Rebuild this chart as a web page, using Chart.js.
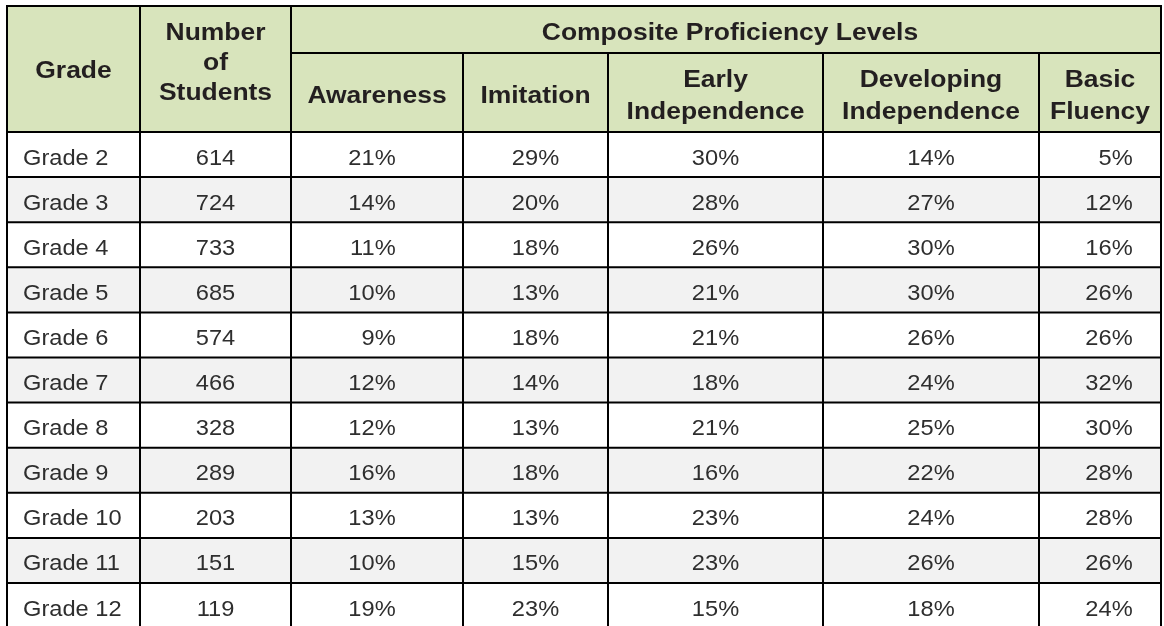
<!DOCTYPE html>
<html>
<head>
<meta charset="utf-8">
<script src="https://cdn.jsdelivr.net/npm/chart.js@4.4.1/dist/chart.umd.min.js"></script>
<style>
    html, body { margin: 0; padding: 0; background: #fff; }
    #wrap { width: 1164px; height: 626px; position: relative; }
</style>
</head>
<body>
<div id="wrap"><canvas id="proficiency-table"></canvas></div>
<script>
// table data
const grades = ['Grade 2', 'Grade 3', 'Grade 4', 'Grade 5', 'Grade 6', 'Grade 7', 'Grade 8', 'Grade 9', 'Grade 10', 'Grade 11', 'Grade 12'];
const students = [614, 724, 733, 685, 574, 466, 328, 289, 203, 151, 119];
const awareness = [21, 14, 11, 10, 9, 12, 12, 16, 13, 10, 19];
const imitation = [29, 20, 18, 13, 18, 14, 13, 18, 13, 15, 23];
const earlyIndependence = [30, 28, 26, 21, 21, 18, 21, 16, 23, 23, 15];
const developingIndependence = [14, 27, 30, 30, 26, 24, 25, 22, 24, 26, 18];
const basicFluency = [5, 12, 16, 26, 26, 32, 30, 28, 28, 26, 24];

const firstHeaders = [['Grade'], ['Number', 'of', 'Students']];
const groupTitle = 'Composite Proficiency Levels';
const levelHeaders = [['Awareness'], ['Imitation'], ['Early', 'Independence'], ['Developing', 'Independence'], ['Basic', 'Fluency']];
const levelValues = [awareness, imitation, earlyIndependence, developingIndependence, basicFluency];

// layout (x scale units = px)
const colEdges = [7, 140, 291, 463, 608, 823, 1039, 1161];
const colShift = [0, 0, -5, 0, 0, 0, 9];
const headerHeight = 126;
const groupHeight = 47;
const rowHeight = 45.1;

const headerBg = '#d8e4bc';
const stripeBg = '#f2f2f2';
const lineColor = '#000000';
const headFont = 'bold 23px "Liberation Sans", Arial, sans-serif';
const bodyFont = '21.5px "Liberation Sans", Arial, sans-serif';

function drawText(ctx, text, x, y, align, font, color, sx) {
    ctx.save();
    ctx.font = font;
    ctx.fillStyle = color;
    ctx.textAlign = align;
    ctx.textBaseline = 'alphabetic';
    ctx.translate(x, y);
    ctx.scale(sx, 1);
    ctx.fillText(text, 0, 0);
    ctx.restore();
}

const tablePlugin = {
    id: 'tablePlugin',
    beforeDraw(chart) {
        const ctx = chart.ctx;
        const xs = chart.scales.x;
        const ys = chart.scales.y;
        const area = chart.chartArea;
        const px = v => xs.getPixelForValue(v);
        const rowTop = i => ys.getPixelForValue(i - 0.5);
        const rowBottom = i => ys.getPixelForValue(i + 0.5);
        const rowMid = i => ys.getPixelForValue(i);

        const left = px(colEdges[0]);
        const right = px(colEdges[colEdges.length - 1]);
        const hBottom = area.top;
        const hTop = hBottom - headerHeight;
        const gBottom = hTop + groupHeight;
        const bottom = chart.height;
        const colMid = c => (px(colEdges[c]) + px(colEdges[c + 1])) / 2 + colShift[c];

        // header background
        ctx.fillStyle = headerBg;
        ctx.fillRect(left, hTop, right - left, headerHeight);

        // stripes
        grades.forEach((g, i) => {
            if (i % 2 === 1) {
                ctx.fillStyle = stripeBg;
                ctx.fillRect(left, rowTop(i), right - left, rowBottom(i) - rowTop(i));
            }
        });

        // header texts
        const hColor = '#231f20';
        drawText(ctx, firstHeaders[0][0], colMid(0), hTop + 72, 'center', headFont, hColor, 1.15);
        firstHeaders[1].forEach((t, k) => {
            drawText(ctx, t, colMid(1), hTop + 34 + k * 30, 'center', headFont, hColor, 1.15);
        });
        drawText(ctx, groupTitle, (px(colEdges[2]) + right) / 2 + 4, hTop + 34, 'center', headFont, hColor, 1.15);
        levelHeaders.forEach((lines, j) => {
            const c = j + 2;
            if (lines.length === 1) {
                drawText(ctx, lines[0], colMid(c) - colShift[c], hTop + 97, 'center', headFont, hColor, 1.15);
            } else {
                lines.forEach((t, k) => {
                    drawText(ctx, t, colMid(c) - colShift[c], hTop + 81 + k * 32, 'center', headFont, hColor, 1.15);
                });
            }
        });

        // body texts
        const bColor = '#2e2e2e';
        ctx.font = bodyFont;
        const pctHalf = ctx.measureText('00%').width * 1.1 / 2;
        grades.forEach((g, i) => {
            const base = rowMid(i) + 10;
            drawText(ctx, g, px(colEdges[0]) + 16, base, 'left', bodyFont, bColor, 1.1);
            drawText(ctx, String(students[i]), colMid(1), base, 'center', bodyFont, bColor, 1.1);
            levelValues.forEach((vals, j) => {
                drawText(ctx, vals[i] + '%', colMid(j + 2) + pctHalf, base, 'right', bodyFont, bColor, 1.1);
            });
        });

        // grid lines
        ctx.save();
        ctx.strokeStyle = lineColor;
        ctx.lineWidth = 2;
        ctx.beginPath();
        ctx.moveTo(left - 1, hTop); ctx.lineTo(right + 1, hTop);
        ctx.moveTo(px(colEdges[2]), gBottom); ctx.lineTo(right, gBottom);
        for (let i = 0; i <= grades.length; i++) {
            const yy = rowTop(i);
            if (yy > bottom) break;
            ctx.moveTo(left, yy); ctx.lineTo(right, yy);
        }
        colEdges.forEach((e, k) => {
            const top = (k >= 3 && k <= 6) ? gBottom : hTop;
            ctx.moveTo(px(e), top); ctx.lineTo(px(e), bottom);
        });
        ctx.stroke();
        ctx.restore();
    }
};

const canvas = document.getElementById('proficiency-table');
new Chart(canvas.getContext('2d'), {
    type: 'scatter',
    data: { datasets: [] },
    options: {
        responsive: true,
        maintainAspectRatio: false,
        animation: false,
        layout: { padding: { top: headerHeight + 6, left: 0, right: 0, bottom: 0 } },
        plugins: { legend: { display: false }, tooltip: { enabled: false } },
        scales: {
            x: { type: 'linear', min: 0, max: 1164, display: false },
            y: { type: 'linear', reverse: true, min: -0.5, max: -0.5 + (626 - 132) / rowHeight, display: false }
        }
    },
    plugins: [tablePlugin]
});
</script>
</body>
</html>
